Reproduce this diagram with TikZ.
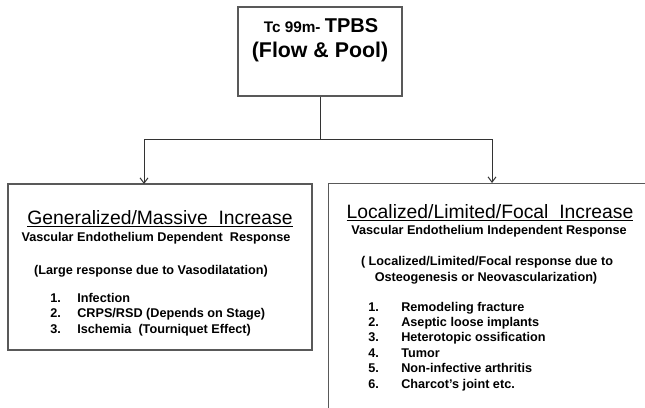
\documentclass[tikz,border=0pt]{standalone}
\usepackage{fontspec}
\setmainfont{Liberation Sans}
\usetikzlibrary{arrows.meta,positioning}

\begin{document}
\begin{tikzpicture}[
        x=0.75pt,y=-0.75pt,
        box/.style={draw=black!65,line width=0.9pt,inner sep=0pt},
        link/.style={black!80,line width=0.75pt},
        arrow/.style={link,-{Straight Barb[length=4pt,width=6pt]}},
        head/.style={font=\fontsize{14.5}{17}\selectfont,anchor=base,inner sep=0pt},
        sub/.style={font=\bfseries\fontsize{9.5}{12}\selectfont,anchor=base,inner sep=0pt},
        item/.style={sub,anchor=base west}
    ]
        \useasboundingbox (0,0) rectangle (645,407);
        \clip (0,0) rectangle (645,407);

        % boxes
        \node[box,minimum width=123pt,minimum height=66.75pt] (tpbs) at (320,51.5) {};
        \node[box,minimum width=228pt,minimum height=124.5pt] (general) at (160,267) {};
        \node[box,minimum width=300pt,minimum height=200pt,anchor=north west] (local) at (328,183) {};

        % top box text
        \node[font=\bfseries\fontsize{11.5}{14}\selectfont,anchor=base,inner sep=0pt] (tcline) at (321,32) {Tc 99m- {\fontsize{15}{18}\selectfont TPBS}};
        \node[font=\bfseries\fontsize{16}{19}\selectfont,anchor=base,inner sep=0pt] (flowpool) at (320,57) {(Flow \& Pool)};

        % left box text
        \node[head] (genhead) at (160,224) {\underline{Generalized/Massive\ \ Increase}};
        \node[sub] (gensub) at (156,241) {Vascular Endothelium Dependent\ \ Response};
        \node[sub] (gennote) at (151,274) {(Large response due to Vasodilatation)};
        \foreach \txt [count=\i] in {Infection,CRPS/RSD (Depends on Stage),Ischemia\ \ (Tourniquet Effect)}{
            \node[item] (gennum\i) at (50,302+15.5*\i-15.5) {\i.};
            \node[item] (genitem\i) at (77,302+15.5*\i-15.5) {\txt};
        }

        % right box text
        \node[head] (lochead) at (490,218) {\underline{Localized/Limited/Focal\ \ Increase}};
        \node[sub] (locsub) at (489,234) {Vascular Endothelium Independent Response};
        \node[sub] (locnote) at (487,265) {( Localized/Limited/Focal response due to};
        \node[sub] (locnotetwo) at (486,281) {Osteogenesis or Neovascularization)};
        \foreach \txt [count=\i] in {Remodeling fracture,Aseptic loose implants,Heterotopic ossification,Tumor,Non-infective arthritis,Charcot's joint etc.}{
            \node[item] (locnum\i) at (368,311+15.4*\i-15.4) {\i.};
            \node[item] (locitem\i) at (401,311+15.4*\i-15.4) {\txt};
        }

        % connectors
        \coordinate (split) at (320,139);
        \coordinate (genin) at (144,184);
        \coordinate (locin) at (492,183);
        \draw[link] (tpbs.south) -- (split);
        \draw[arrow] (split) -| (genin);
        \draw[arrow] (split) -| (locin);
    \end{tikzpicture}
\end{document}
